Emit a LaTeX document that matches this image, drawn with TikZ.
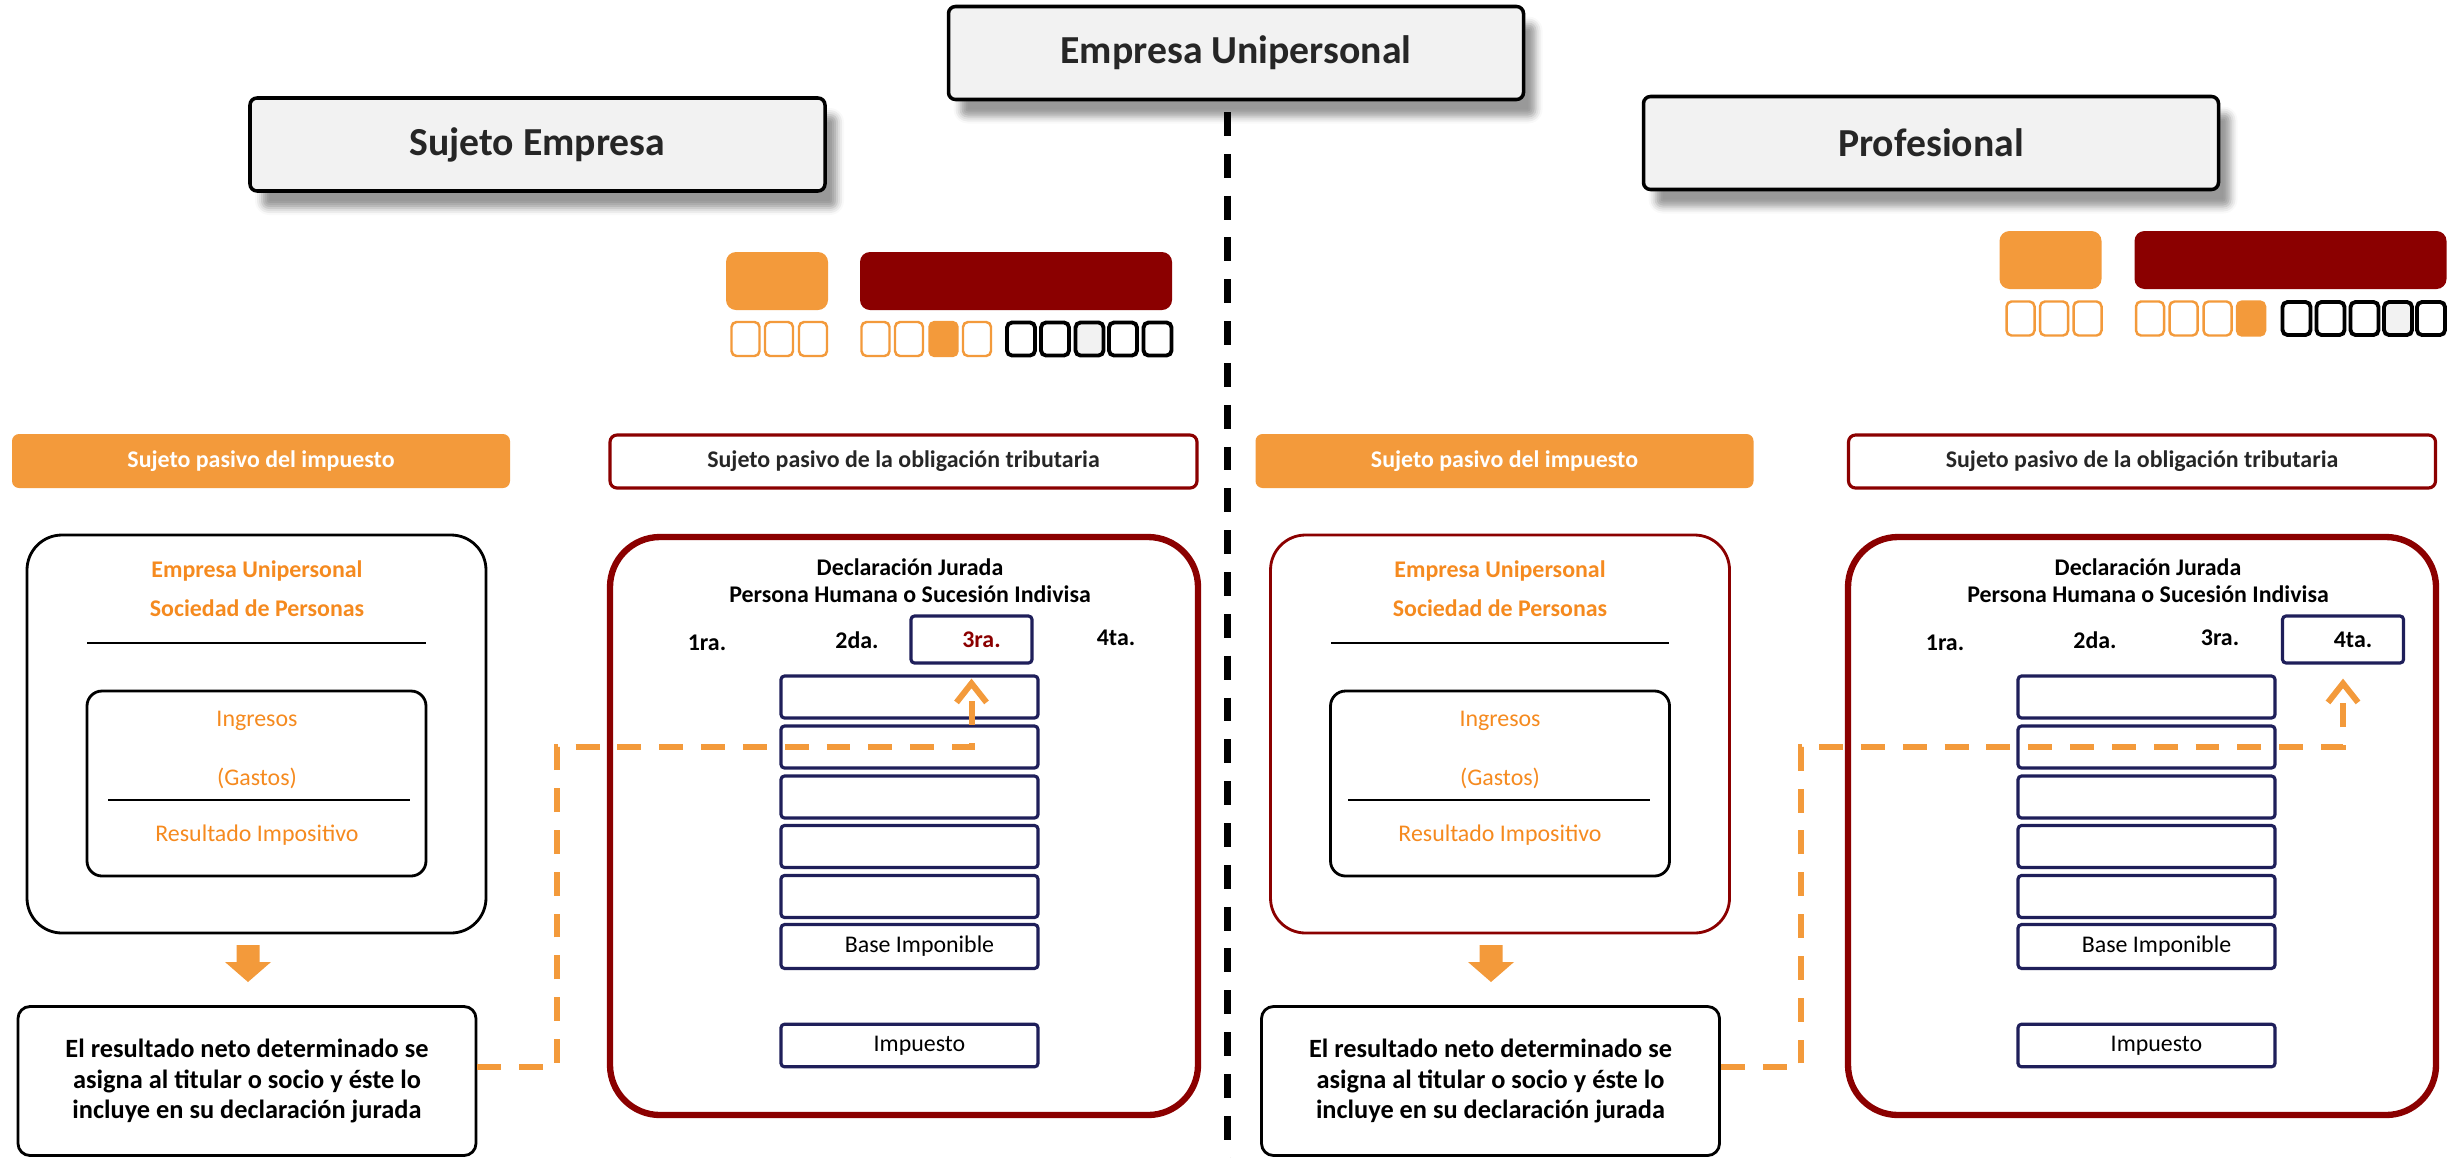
\documentclass[tikz,border=0pt]{standalone}
\usepackage{fontspec}
\setmainfont{Carlito}
\usepackage{xcolor}
\usetikzlibrary{arrows.meta,calc,shadows.blur}
\definecolor{boxgray}{HTML}{F2F2F2}
\definecolor{barorange}{HTML}{F39A3B}
\definecolor{txtorange}{HTML}{F58A1F}
\definecolor{djred}{HTML}{8B0000}
\definecolor{formnavy}{HTML}{1F1F5A}
\tikzset{
	headbox/.style={
			draw, line width=1pt, fill=boxgray, rounded corners=2pt,
			minimum width=5.75cm, minimum height=0.93cm,
			font=\fontsize{11.3}{13}\selectfont\bfseries, text=black!85,
			blur shadow={shadow xshift=0.12cm, shadow yshift=-0.17cm,
					shadow blur radius=0.07cm, shadow opacity=40}
		},
	ley_imp/.style={fill=barorange, rounded corners=0.1cm, inner sep=0,
			minimum width=1.02cm, minimum height=0.58cm},
	ley_obl/.style={fill=djred, rounded corners=0.1cm, inner sep=0,
			minimum width=3.12cm, minimum height=0.58cm},
	sq_o/.style={draw=barorange, line width=0.7pt, rounded corners=0.05cm, inner sep=0,
			minimum width=0.28cm, minimum height=0.34cm},
	sq_k/.style={draw=black, line width=1.1pt, rounded corners=0.05cm, inner sep=0,
			minimum width=0.28cm, minimum height=0.33cm},
	bar_imp/.style={fill=barorange, rounded corners=2pt, text=white,
			minimum width=4.98cm, minimum height=0.54cm,
			font=\fontsize{6.8}{8}\selectfont\bfseries},
	bar_obl/.style={draw=djred, line width=0.9pt, rounded corners=2pt, text=black!85,
			minimum width=5.87cm, minimum height=0.53cm,
			font=\fontsize{6.8}{8}\selectfont\bfseries},
	ente/.style={line width=0.8pt, rounded corners=0.35cm,
			minimum width=4.59cm, minimum height=3.98cm},
	calc_box/.style={draw, line width=0.8pt, rounded corners=0.15cm,
			minimum width=3.39cm, minimum height=1.85cm},
	orng_b/.style={text=txtorange, font=\fontsize{6.8}{8}\selectfont\bfseries},
	orng/.style={text=txtorange, font=\fontsize{6.8}{8}\selectfont},
	asigna/.style={draw, line width=0.8pt, rounded corners=0.12cm, align=center,
			minimum width=4.58cm, minimum height=1.49cm,
			font=\fontsize{7.5}{8.8}\selectfont\bfseries},
	flecha/.style={fill=barorange},
	dj/.style={draw=djred, line width=1.8pt, rounded corners=0.5cm,
			minimum width=5.88cm, minimum height=5.78cm},
	dj_txt/.style={align=center, font=\fontsize{6.8}{7.7}\selectfont\bfseries},
	cat/.style={font=\fontsize{6.8}{8}\selectfont\bfseries},
	cat_box/.style={draw=formnavy, line width=0.9pt, rounded corners=1pt,
			minimum width=1.21cm, minimum height=0.47cm,
			font=\fontsize{6.8}{8}\selectfont\bfseries},
	renglon/.style={draw=formnavy, line width=0.9pt, rounded corners=1pt,
			minimum width=2.57cm, minimum height=0.42cm,
			font=\fontsize{6.8}{8}\selectfont},
	traslado/.style={draw=barorange, line width=1.7pt, dash pattern=on 6.8pt off 5.1pt,
			-{Straight Barb[length=0.19cm, width=0.3cm, line width=1.7pt]}},
	divisor/.style={line width=2pt, dash pattern=on 6.8pt off 5.1pt}
}

\begin{document}
\begin{tikzpicture}
        \useasboundingbox (0,0) rectangle (24.48,-11.57);
        \node[headbox] (emp_U) at (12.36,-0.53) {Empresa Unipersonal};
        \node[headbox] (suj_E) at (5.375,-1.445) {Sujeto Empresa};
        \node[headbox] (prof) at (19.31,-1.43) {Profesional};
        \coordinate (div_top) at (12.27,-1.12);
        \coordinate (div_bot) at (12.27,-11.6);
        \draw[divisor] (div_top) -- (div_bot);
        % leyenda izquierda
        \node[ley_imp] (ley_imp_L) at (7.77,-2.81) {};
        \node[ley_obl] (ley_obl_L) at (10.16,-2.81) {};
        \node[sq_o] (sq_L1) at (7.455,-3.39) {};
        \node[sq_o] (sq_L2) at (7.79,-3.39) {};
        \node[sq_o] (sq_L3) at (8.13,-3.39) {};
        \node[sq_o] (sq_L4) at (8.755,-3.39) {};
        \node[sq_o] (sq_L5) at (9.09,-3.39) {};
        \node[sq_o,fill=barorange] (sq_L6) at (9.435,-3.39) {};
        \node[sq_o] (sq_L7) at (9.77,-3.39) {};
        \node[sq_k] (sq_L8) at (10.21,-3.39) {};
        \node[sq_k] (sq_L9) at (10.55,-3.39) {};
        \node[sq_k,fill=boxgray] (sq_L10) at (10.895,-3.39) {};
        \node[sq_k] (sq_L11) at (11.23,-3.39) {};
        \node[sq_k] (sq_L12) at (11.575,-3.39) {};
        % leyenda derecha
        \node[ley_imp] (ley_imp_R) at (20.505,-2.60) {};
        \node[ley_obl] (ley_obl_R) at (22.905,-2.60) {};
        \node[sq_o] (sq_R1) at (20.205,-3.185) {};
        \node[sq_o] (sq_R2) at (20.54,-3.185) {};
        \node[sq_o] (sq_R3) at (20.875,-3.185) {};
        \node[sq_o] (sq_R4) at (21.50,-3.185) {};
        \node[sq_o] (sq_R5) at (21.835,-3.185) {};
        \node[sq_o] (sq_R6) at (22.175,-3.185) {};
        \node[sq_o,fill=barorange] (sq_R7) at (22.51,-3.185) {};
        \node[sq_k] (sq_R8) at (22.965,-3.185) {};
        \node[sq_k] (sq_R9) at (23.305,-3.185) {};
        \node[sq_k] (sq_R10) at (23.645,-3.185) {};
        \node[sq_k,fill=boxgray] (sq_R11) at (23.98,-3.185) {};
        \node[sq_k] (sq_R12) at (24.31,-3.185) {};
        % Sujeto Empresa
        \node[bar_imp] (bar_imp_L) at (2.61,-4.61) {Sujeto pasivo del impuesto};
        \node[bar_obl] (bar_obl_L) at (9.035,-4.615) {Sujeto pasivo de la obligación tributaria};
        \node[ente,draw] (ente_L) at (2.565,-7.34) {};
        \node[orng_b] (eu_L) at (2.57,-5.71) {Empresa Unipersonal};
        \node[orng_b] (sp_L) at (2.57,-6.08) {Sociedad de Personas};
        \coordinate (rl_a_L) at (0.87,-6.43);
        \coordinate (rl_b_L) at (4.26,-6.43);
        \draw[line width=0.8pt] (rl_a_L) -- (rl_b_L);
        \node[calc_box] (calc_L) at (2.565,-7.835) {};
        \node[orng] (ing_L) at (2.57,-7.21) {Ingresos};
        \node[orng] (gas_L) at (2.57,-7.78) {(Gastos)};
        \coordinate (rg_a_L) at (1.08,-8.00);
        \coordinate (rg_b_L) at (4.10,-8.00);
        \draw[line width=0.8pt] (rg_a_L) -- (rg_b_L);
        \node[orng] (res_L) at (2.57,-8.35) {Resultado Impositivo};
        \coordinate (fl_L) at (2.48,-9.45);
        \fill[flecha] (fl_L) ++(-0.115,0) -- ++(0.23,0) -- ++(0,-0.17) -- ++(0.115,0)
            -- ++(-0.23,-0.2) -- ++(-0.23,0.2) -- ++(0.115,0) -- cycle;
        \node[asigna] (asig_L) at (2.47,-10.81) {El resultado neto determinado se\\asigna al titular o socio y éste lo\\incluye en su declaración jurada};
        \node[dj] (dj_L) at (9.04,-8.26) {};
        \node[dj_txt] (dj_t_L) at (9.10,-5.805) {Declaración Jurada\\Persona Humana o Sucesión Indivisa};
        \node[cat] (cat1_L) at (7.07,-6.43) {1ra.};
        \node[cat] (cat2_L) at (8.57,-6.40) {2da.};
        \node[cat_box,text=djred] (cat3_L) at (9.715,-6.395) {\hspace*{0.2cm}3ra.};
        \node[cat] (cat4_L) at (11.16,-6.38) {4ta.};
        \node[renglon] (r1_L) at (9.095,-6.97) {};
        \node[renglon] (r2_L) at (9.095,-7.47) {};
        \node[renglon] (r3_L) at (9.095,-7.97) {};
        \node[renglon] (r4_L) at (9.095,-8.465) {};
        \node[renglon] (r5_L) at (9.095,-8.965) {};
        \node[renglon] (bi_L) at (9.095,-9.465) {\hspace*{0.2cm}Base Imponible};
        \node[renglon] (imp_L) at (9.095,-10.455) {\hspace*{0.2cm}Impuesto};
        \coordinate (codo_L) at (5.57,-7.47);
        \draw[traslado] ([yshift=0.14cm]asig_L.east) -| (codo_L) -| ([yshift=-0.14cm]cat3_L.south);
        % Profesional
        \node[bar_imp] (bar_imp_R) at (15.045,-4.61) {Sujeto pasivo del impuesto};
        \node[bar_obl] (bar_obl_R) at (21.42,-4.615) {Sujeto pasivo de la obligación tributaria};
        \node[ente,draw=djred] (ente_R) at (15.0,-7.34) {};
        \node[orng_b] (eu_R) at (15.0,-5.71) {Empresa Unipersonal};
        \node[orng_b] (sp_R) at (15.0,-6.08) {Sociedad de Personas};
        \coordinate (rl_a_R) at (13.31,-6.43);
        \coordinate (rl_b_R) at (16.69,-6.43);
        \draw[line width=0.8pt] (rl_a_R) -- (rl_b_R);
        \node[calc_box] (calc_R) at (15.0,-7.835) {};
        \node[orng] (ing_R) at (15.0,-7.21) {Ingresos};
        \node[orng] (gas_R) at (15.0,-7.78) {(Gastos)};
        \coordinate (rg_a_R) at (13.48,-8.00);
        \coordinate (rg_b_R) at (16.50,-8.00);
        \draw[line width=0.8pt] (rg_a_R) -- (rg_b_R);
        \node[orng] (res_R) at (15.0,-8.35) {Resultado Impositivo};
        \coordinate (fl_R) at (14.91,-9.45);
        \fill[flecha] (fl_R) ++(-0.115,0) -- ++(0.23,0) -- ++(0,-0.17) -- ++(0.115,0)
            -- ++(-0.23,-0.2) -- ++(-0.23,0.2) -- ++(0.115,0) -- cycle;
        \node[asigna] (asig_R) at (14.905,-10.81) {El resultado neto determinado se\\asigna al titular o socio y éste lo\\incluye en su declaración jurada};
        \node[dj] (dj_R) at (21.42,-8.26) {};
        \node[dj_txt] (dj_t_R) at (21.48,-5.805) {Declaración Jurada\\Persona Humana o Sucesión Indivisa};
        \node[cat] (cat1_R) at (19.45,-6.43) {1ra.};
        \node[cat] (cat2_R) at (20.95,-6.40) {2da.};
        \node[cat] (cat3_R) at (22.20,-6.38) {3ra.};
        \node[cat_box] (cat4_R) at (23.43,-6.395) {\hspace*{0.2cm}4ta.};
        \node[renglon] (r1_R) at (21.465,-6.97) {};
        \node[renglon] (r2_R) at (21.465,-7.47) {};
        \node[renglon] (r3_R) at (21.465,-7.97) {};
        \node[renglon] (r4_R) at (21.465,-8.465) {};
        \node[renglon] (r5_R) at (21.465,-8.965) {};
        \node[renglon] (bi_R) at (21.465,-9.465) {\hspace*{0.2cm}Base Imponible};
        \node[renglon] (imp_R) at (21.465,-10.455) {\hspace*{0.2cm}Impuesto};
        \coordinate (codo_R) at (18.01,-7.47);
        \draw[traslado] ([yshift=0.14cm]asig_R.east) -| (codo_R) -| ([yshift=-0.14cm]cat4_R.south);
    \end{tikzpicture}
\end{document}
